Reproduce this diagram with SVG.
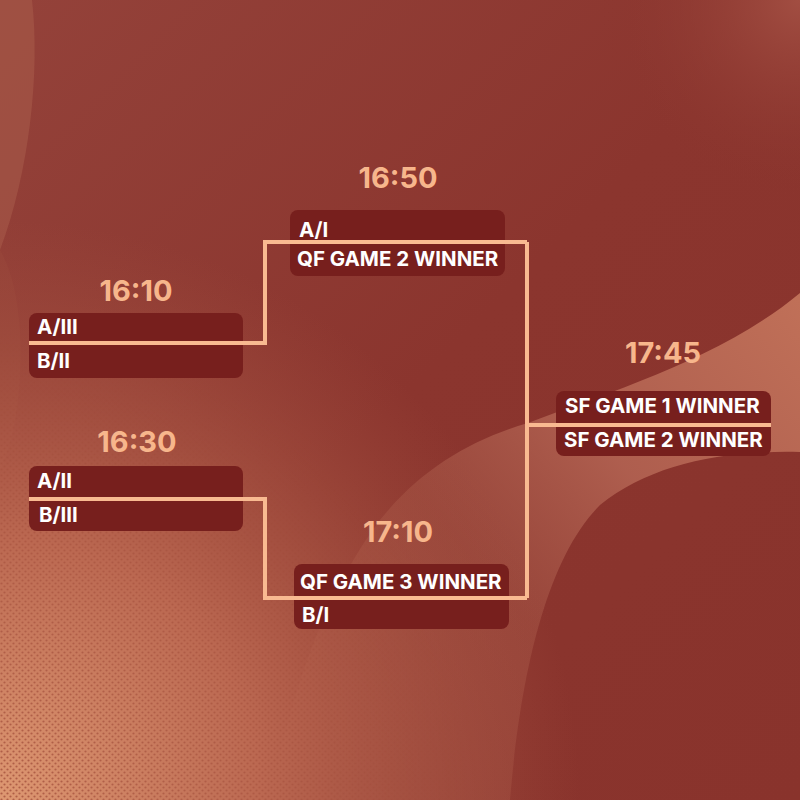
<svg xmlns="http://www.w3.org/2000/svg" width="800" height="800" viewBox="0 0 800 800">
<defs>
<style>
.box{fill:#771f1d;}
.time{font-family:Inter,"Noto Sans",sans-serif;font-weight:700;font-size:29px;fill:#f7b68c;text-anchor:middle;}
.lbl{font-family:Inter,"Noto Sans",sans-serif;font-weight:700;font-size:20.5px;fill:#ffffff;}
.con{fill:none;stroke:#f9ba91;stroke-width:4;stroke-linejoin:miter;}
</style>
<linearGradient id="bgG" x1="0" y1="0" x2="1" y2="1">
<stop offset="0" stop-color="#94423a"/>
<stop offset="0.5" stop-color="#8b352e"/>
<stop offset="1" stop-color="#89332c"/>
</linearGradient>
<linearGradient id="bandG" x1="800" y1="300" x2="280" y2="760" gradientUnits="userSpaceOnUse">
<stop offset="0" stop-color="#c07058"/>
<stop offset="0.35" stop-color="#b06050" stop-opacity="0.95"/>
<stop offset="0.6" stop-color="#a55546" stop-opacity="0.55"/>
<stop offset="1" stop-color="#a55546" stop-opacity="0.3"/>
</linearGradient>
<radialGradient id="blG" cx="0" cy="800" r="580" gradientUnits="userSpaceOnUse">
<stop offset="0" stop-color="#de9872"/>
<stop offset="0.45" stop-color="#bb6851"/>
<stop offset="1" stop-color="#a4503f" stop-opacity="0"/>
</radialGradient>
<radialGradient id="trG" cx="800" cy="0" r="200" gradientUnits="userSpaceOnUse">
<stop offset="0" stop-color="#a24e42"/>
<stop offset="1" stop-color="#8b352e" stop-opacity="0"/>
</radialGradient>
<radialGradient id="dotMaskG" cx="0" cy="800" r="480" gradientUnits="userSpaceOnUse">
<stop offset="0" stop-color="#fff" stop-opacity="1"/>
<stop offset="0.6" stop-color="#fff" stop-opacity="0.5"/>
<stop offset="1" stop-color="#fff" stop-opacity="0"/>
</radialGradient>
<pattern id="dots" width="6" height="6" patternUnits="userSpaceOnUse">
<circle cx="1.5" cy="1.5" r="1.1" fill="#9a4433"/>
<circle cx="4.5" cy="4.5" r="1.1" fill="#9a4433"/>
</pattern>
<mask id="dotMask">
<rect x="0" y="0" width="800" height="800" fill="url(#dotMaskG)"/>
</mask>
</defs>

<g id="background">
<rect x="0" y="0" width="800" height="800" fill="url(#bgG)"/>
<rect x="0" y="0" width="800" height="800" fill="url(#trG)"/>
<path d="M0,0 L32,0 C40,70 30,170 0,250 Z" fill="#a75a4a" opacity="0.6"/>
<path d="M0,250 C30,300 25,420 0,470 Z" fill="#9c4a3d" opacity="0.35"/>
<path d="M800,293 C720,360 600,395 528,423 C470,440 420,470 380,520 C320,600 290,700 270,800 L510,800 C520,680 545,560 600,505 C650,465 720,450 800,452 Z" fill="url(#bandG)"/>
<rect x="0" y="0" width="800" height="800" fill="url(#blG)"/>
<rect x="0" y="0" width="800" height="800" fill="url(#dots)" mask="url(#dotMask)" opacity="0.7"/>
</g>

<g id="connectors">
<path class="con" d="M29,343 H265 V242 H527"/>
<path class="con" d="M29,499 H265 V598 H527"/>
<path class="con" d="M527,242 V598"/>
<path class="con" d="M527,425 H771"/>
</g>

<g id="qf1">
<rect class="box" x="29" y="313" width="214" height="65" rx="8"/>
<rect x="29" y="341" width="214" height="4" fill="#f9ba91"/>
<text class="time" x="136" y="301">16:10</text>
<text class="lbl" x="37" y="334">A/III</text>
<text class="lbl" x="37" y="368">B/II</text>
</g>

<g id="qf2">
<rect class="box" x="29" y="466" width="214" height="65" rx="8"/>
<rect x="29" y="497" width="214" height="4" fill="#f9ba91"/>
<text class="time" x="137" y="452">16:30</text>
<text class="lbl" x="37" y="488">A/II</text>
<text class="lbl" x="39" y="522">B/III</text>
</g>

<g id="sf1">
<rect class="box" x="290" y="210" width="215" height="66" rx="8"/>
<rect x="290" y="240" width="215" height="4" fill="#f9ba91"/>
<text class="time" x="398" y="188">16:50</text>
<text class="lbl" x="299" y="237">A/I</text>
<text class="lbl" x="297" y="266">QF GAME 2 WINNER</text>
</g>

<g id="sf2">
<rect class="box" x="294" y="564" width="215" height="65" rx="8"/>
<rect x="294" y="596" width="215" height="4" fill="#f9ba91"/>
<text class="time" x="398" y="542">17:10</text>
<text class="lbl" x="300" y="589">QF GAME 3 WINNER</text>
<text class="lbl" x="302" y="622">B/I</text>
</g>

<g id="final">
<rect class="box" x="556" y="391" width="215" height="65" rx="8"/>
<rect x="556" y="423" width="215" height="4" fill="#f9ba91"/>
<text class="time" x="663" y="363">17:45</text>
<text class="lbl" x="565" y="413">SF GAME 1 WINNER</text>
<text class="lbl" x="564" y="447">SF GAME 2 WINNER</text>
</g>
</svg>
